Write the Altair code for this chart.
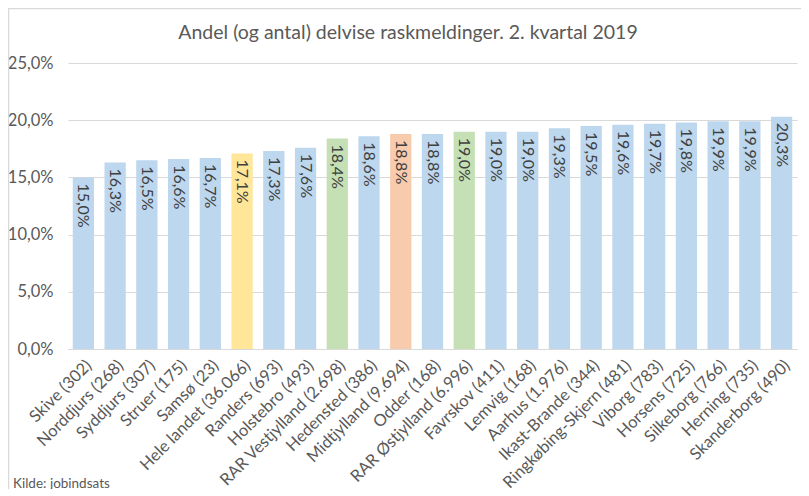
import altair as alt
import pandas as pd

categories = ["Skive (302)", "Norddjurs (268)", "Syddjurs (307)", "Struer (175)", "Samsø (23)",
              "Hele landet (36.066)", "Randers (693)", "Holstebro (493)", "RAR Vestjylland (2.698)",
              "Hedensted (386)", "Midtjylland (9.694)", "Odder (168)", "RAR Østjylland (6.996)",
              "Favrskov (411)", "Lemvig (168)", "Aarhus (1.976)", "Ikast-Brande (344)",
              "Ringkøbing-Skjern (481)", "Viborg (783)", "Horsens (725)", "Silkeborg (766)",
              "Herning (735)", "Skanderborg (490)"]
values = [0.150, 0.163, 0.165, 0.166, 0.167, 0.171, 0.173, 0.176, 0.184, 0.186, 0.188, 0.188,
          0.190, 0.190, 0.190, 0.193, 0.195, 0.196, 0.197, 0.198, 0.199, 0.199, 0.203]
groups = ["kommune", "kommune", "kommune", "kommune", "kommune", "land", "kommune", "kommune",
          "rar", "kommune", "region", "kommune", "rar", "kommune", "kommune", "kommune", "kommune",
          "kommune", "kommune", "kommune", "kommune", "kommune", "kommune"]
title_text = "Andel (og antal) delvise raskmeldinger. 2. kvartal 2019"
source_text = "Kilde: jobindsats"

df = pd.DataFrame({"kategori": categories, "andel": values, "gruppe": groups})
df["label"] = df["andel"].map(lambda v: f"{v*100:.1f}%".replace(".", ","))
one = pd.DataFrame({"t": [title_text], "s": [source_text]})

FONT = "Lato"
GREY = "#595959"

base = alt.Chart(df).encode(
    x=alt.X("kategori:N", sort=None, title=None,
            scale=alt.Scale(paddingInner=0.33, paddingOuter=0.15),
            axis=alt.Axis(labelAngle=-45, labelAlign="right", labelBaseline="top",
                          labelFontSize=16.5, labelColor=GREY, labelFont=FONT, labelPadding=8,
                          ticks=False, domainColor="#D9D9D9", domainWidth=1, labelLimit=300)),
    y=alt.Y("andel:Q", title=None,
            scale=alt.Scale(domain=[0, 0.25]),
            axis=alt.Axis(values=[0, 0.05, 0.10, 0.15, 0.20, 0.25],
                          labelExpr="replace(format(datum.value, '.1%'), '.', ',')",
                          labelFontSize=16.5, labelColor=GREY, labelFont=FONT, labelPadding=15,
                          ticks=False, domain=False, gridColor="#D9D9D9")),
)

bars = base.mark_bar().encode(
    color=alt.Color("gruppe:N", legend=None,
                    scale=alt.Scale(domain=["kommune", "land", "rar", "region"],
                                    range=["#BDD7EE", "#FFE699", "#C5E0B4", "#F8CBAD"]))
)

text = base.mark_text(angle=90, align="left", baseline="middle", dx=6,
                      fontSize=16, color="#404040", font=FONT).encode(text="label:N")

title = alt.Chart(one).mark_text(align="center", baseline="middle", fontSize=19.5,
                                 color=GREY, font=FONT).encode(
    x=alt.value(340), y=alt.value(-30), text="t:N")

source = alt.Chart(one).mark_text(align="left", baseline="middle", fontSize=13.5,
                                  color=GREY, font=FONT).encode(
    x=alt.value(-55), y=alt.value(421), text="s:N")

border_top = alt.Chart(one).mark_rule(color="#D9D9D9", strokeWidth=1.5).encode(
    x=alt.value(-60), x2=alt.value(733), y=alt.value(-54.5))
border_left = alt.Chart(one).mark_rule(color="#D9D9D9", strokeWidth=1.5).encode(
    x=alt.value(-59.5), y=alt.value(-55), y2=alt.value(430))

chart = alt.layer(bars, text, title, source, border_top, border_left).properties(
    width=729, height=286,
    padding={"left": 60, "top": 55, "right": 4, "bottom": 140},
    autosize=alt.AutoSizeParams(type="none"),
).configure_view(stroke=None)

chart.save("out.html", embed_options={"renderer": "svg", "actions": False})
